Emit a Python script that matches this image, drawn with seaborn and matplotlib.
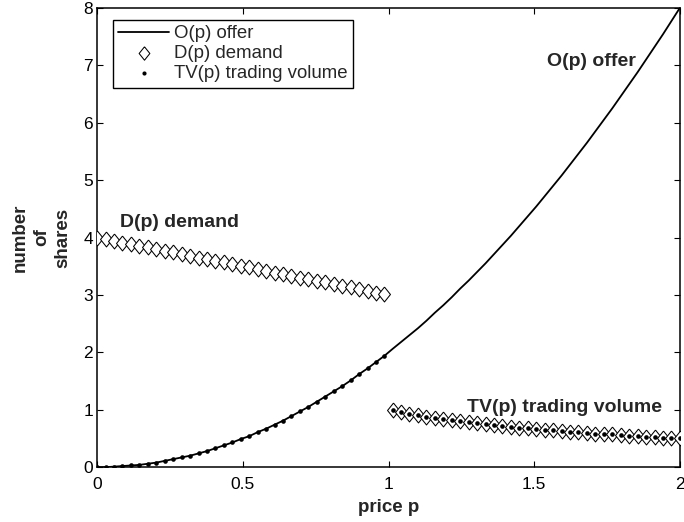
import pandas as pd
import matplotlib.pyplot as plt
import seaborn as sns

# price grid (70 points on [0, 2])
price = [0.000, 0.029, 0.058, 0.087, 0.116, 0.145, 0.174, 0.203, 0.232, 0.261,
         0.290, 0.319, 0.348, 0.377, 0.406, 0.435, 0.464, 0.493, 0.522, 0.551,
         0.580, 0.609, 0.638, 0.667, 0.696, 0.725, 0.754, 0.783, 0.812, 0.841,
         0.870, 0.899, 0.928, 0.957, 0.986, 1.014, 1.043, 1.072, 1.101, 1.130,
         1.159, 1.188, 1.217, 1.246, 1.275, 1.304, 1.333, 1.362, 1.391, 1.420,
         1.449, 1.478, 1.507, 1.536, 1.565, 1.594, 1.623, 1.652, 1.681, 1.710,
         1.739, 1.768, 1.797, 1.826, 1.855, 1.884, 1.913, 1.942, 1.971, 2.000]

offer = [0.00, 0.00, 0.01, 0.02, 0.03, 0.04, 0.06, 0.08, 0.11, 0.14,
         0.17, 0.20, 0.24, 0.28, 0.33, 0.38, 0.43, 0.49, 0.54, 0.61,
         0.67, 0.74, 0.81, 0.89, 0.97, 1.05, 1.14, 1.23, 1.32, 1.41,
         1.51, 1.62, 1.72, 1.83, 1.94, 2.06, 2.18, 2.30, 2.42, 2.55,
         2.69, 2.82, 2.96, 3.11, 3.25, 3.40, 3.55, 3.71, 3.87, 4.03,
         4.20, 4.37, 4.54, 4.72, 4.90, 5.08, 5.27, 5.46, 5.65, 5.85,
         6.05, 6.25, 6.46, 6.67, 6.88, 7.10, 7.32, 7.54, 7.77, 8.00]

demand = [4.00, 3.97, 3.94, 3.91, 3.88, 3.86, 3.83, 3.80, 3.77, 3.74,
          3.71, 3.68, 3.65, 3.62, 3.59, 3.57, 3.54, 3.51, 3.48, 3.45,
          3.42, 3.39, 3.36, 3.33, 3.30, 3.28, 3.25, 3.22, 3.19, 3.16,
          3.13, 3.10, 3.07, 3.04, 3.01, 0.99, 0.96, 0.93, 0.91, 0.88,
          0.86, 0.84, 0.82, 0.80, 0.78, 0.77, 0.75, 0.73, 0.72, 0.70,
          0.69, 0.68, 0.66, 0.65, 0.64, 0.63, 0.62, 0.61, 0.59, 0.58,
          0.58, 0.57, 0.56, 0.55, 0.54, 0.53, 0.52, 0.51, 0.51, 0.50]

volume = [0.00, 0.00, 0.01, 0.02, 0.03, 0.04, 0.06, 0.08, 0.11, 0.14,
          0.17, 0.20, 0.24, 0.28, 0.33, 0.38, 0.43, 0.49, 0.54, 0.61,
          0.67, 0.74, 0.81, 0.89, 0.97, 1.05, 1.14, 1.23, 1.32, 1.41,
          1.51, 1.62, 1.72, 1.83, 1.94, 0.99, 0.96, 0.93, 0.91, 0.88,
          0.86, 0.84, 0.82, 0.80, 0.78, 0.77, 0.75, 0.73, 0.72, 0.70,
          0.69, 0.68, 0.66, 0.65, 0.64, 0.63, 0.62, 0.61, 0.59, 0.58,
          0.58, 0.57, 0.56, 0.55, 0.54, 0.53, 0.52, 0.51, 0.51, 0.50]

df = pd.DataFrame({"price": price, "offer": offer, "demand": demand, "volume": volume})

sns.set_style("ticks")
plt.rcParams['font.family'] = ['Liberation Sans', 'DejaVu Sans']

# matlab-like diamond (a bit taller than wide)
diamond = [(0, 1), (0.8, 0), (0, -1), (-0.8, 0), (0, 1)]

fig = plt.figure(figsize=(6.84, 5.22), dpi=100)
ax = fig.add_axes([0.142, 0.105, 0.852, 0.880])

sns.lineplot(data=df, x="price", y="offer", color="black", linewidth=1.3,
             label="O(p) offer", ax=ax)
sns.scatterplot(data=df, x="price", y="demand", marker=diamond, s=115,
                facecolor="white", edgecolor="black", linewidth=0.75,
                label="D(p) demand", ax=ax, zorder=3)
sns.scatterplot(data=df, x="price", y="volume", marker="o", s=11,
                color="black", edgecolor="black", linewidth=0,
                label="TV(p) trading volume", ax=ax, zorder=4)

ax.set_xlim(0, 2)
ax.set_ylim(0, 8)
ax.set_xticks([0, 0.5, 1, 1.5, 2])
ax.set_xticklabels(["0", "0.5", "1", "1.5", "2"])
ax.set_yticks(range(0, 9))
ax.tick_params(direction="in", top=True, right=True, length=4.3, width=0.8,
               labelsize=12.5, colors="black")
ax.tick_params(axis="x", pad=7)
ax.tick_params(axis="y", pad=3)
for s in ax.spines.values():
    s.set_linewidth(1.1)
    s.set_color("black")

ax.set_xlabel("price p", fontsize=13.5, fontweight="bold", labelpad=5)
ax.set_ylabel("number\nof\nshares", fontsize=13.5, fontweight="bold",
              linespacing=1.3, multialignment="center")
ax.yaxis.set_label_coords(-0.045, 0.5)

ax.text(0.079, 4.18, "D(p) demand", fontsize=14, fontweight="bold", va="baseline")
ax.text(1.545, 6.98, "O(p) offer", fontsize=14, fontweight="bold", va="baseline")
ax.text(1.27, 0.96, "TV(p) trading volume", fontsize=14, fontweight="bold", va="baseline")

leg = ax.legend(loc="upper left", bbox_to_anchor=(0.027, 0.974), borderaxespad=0,
                fontsize=13.4, frameon=True, fancybox=False, edgecolor="black",
                handlelength=2.7, handletextpad=0.3, borderpad=0.3,
                labelspacing=0.15, framealpha=1, markerscale=0.9)
leg.get_frame().set_linewidth(1.0)

fig.savefig("out.png", dpi=100)
